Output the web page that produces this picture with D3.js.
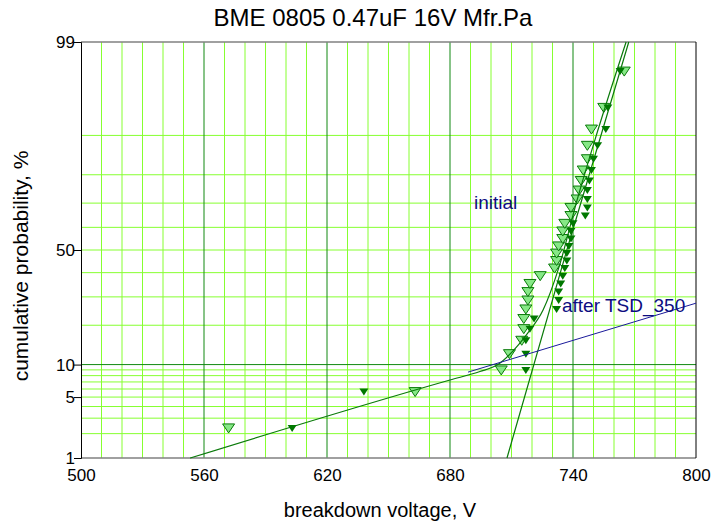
<!DOCTYPE html>
<html>
<head>
<meta charset="utf-8">
<script src="https://cdn.jsdelivr.net/npm/d3@7"></script>
<style>
  body { margin: 0; background: #fff; }
  svg text { font-family: "Liberation Sans", Arial, sans-serif; fill: #000; }
</style>
</head>
<body>
<div id="chart"></div>
<script>
// breakdown voltages (V), sorted ascending, 30 parts per lot
const voltsLight = [572, 663, 705, 709, 715, 716, 716, 717, 718, 718, 719, 724, 731, 732, 732,
                    733, 735, 735, 736, 739, 739, 742, 743, 744, 745, 747, 747, 749, 755, 765];
const voltsDark = [603, 638, 717, 717, 717, 719, 721, 732, 733, 733, 734, 735, 736, 737, 737,
                   738, 739, 739, 740, 746, 747, 747, 747, 748, 749, 750, 752, 756, 757, 763];
// cumulative probability (%) of each rank
const cumPct = [2.3, 5.6, 8.9, 12.2, 15.5, 18.8, 22.0, 25.3, 28.6, 31.9, 35.2, 38.5, 41.8, 45.1, 48.4,
                51.6, 54.9, 58.2, 61.5, 64.8, 68.1, 71.4, 74.7, 78.0, 81.3, 84.5, 87.8, 91.1, 94.4, 97.7];

// fitted distributions [voltage, %]
const fitLight = [[553.2, 1], [680.0, 7.3], [694.6, 8.7], [702.9, 9.9], [714.1, 14.9], [718.0, 17.7],
                  [725.4, 25.1], [733.2, 42.5], [742.0, 71.2], [750.7, 89.1], [765.9, 99]];
const fitDark = [[707.8, 1], [737.0, 50], [767.2, 99]];
// pointer from the "after TSD_350" label
const pointer = [[688.8, 8.6], [800, 27.6]];

const xTicks = [500, 560, 620, 680, 740, 800];
const xMinor = [510, 520, 530, 540, 550, 570, 580, 590, 600, 610, 630, 640, 650, 660, 670,
                690, 700, 710, 720, 730, 750, 760, 770, 780, 790];
const yTicks = [1, 5, 10, 50, 99];
const yMinor = [2, 3, 4, 5, 6, 7, 8, 9, 20, 30, 40, 50, 60, 70, 80, 90];
const yMajor = [10];

// inverse normal CDF (Acklam approximation)
function probit(p) {
  const a = [-39.69683028665376, 220.9460984245205, -275.9285104469687, 138.3577518672690, -30.66479806614716, 2.506628277459239];
  const b = [-54.47609879822406, 161.5858368580409, -155.6989798598866, 66.80131188771972, -13.28068155288572];
  const c = [-0.007784894002430293, -0.3223964580411365, -2.400758277161838, -2.549732539343734, 4.374664141464968, 2.938163982698783];
  const d = [0.007784695709041462, 0.3224671290700398, 2.445134137142996, 3.754408661907416];
  const pl = 0.02425;
  if (p < pl) {
    const q = Math.sqrt(-2 * Math.log(p));
    return (((((c[0]*q+c[1])*q+c[2])*q+c[3])*q+c[4])*q+c[5]) / ((((d[0]*q+d[1])*q+d[2])*q+d[3])*q+1);
  }
  if (p > 1 - pl) {
    const q = Math.sqrt(-2 * Math.log(1 - p));
    return -(((((c[0]*q+c[1])*q+c[2])*q+c[3])*q+c[4])*q+c[5]) / ((((d[0]*q+d[1])*q+d[2])*q+d[3])*q+1);
  }
  const q = p - 0.5, r = q * q;
  return (((((a[0]*r+a[1])*r+a[2])*r+a[3])*r+a[4])*r+a[5])*q / (((((b[0]*r+b[1])*r+b[2])*r+b[3])*r+b[4])*r+1);
}

const width = 712, height = 522;
const margin = { top: 42, right: 16, bottom: 64, left: 81 };
const plotW = width - margin.left - margin.right;
const plotH = height - margin.top - margin.bottom;

const svg = d3.select("#chart").append("svg")
  .attr("width", width)
  .attr("height", height);

const g = svg.append("g")
  .attr("transform", "translate(" + margin.left + "," + margin.top + ")");

// scales: linear voltage, normal-probability percent
const x = d3.scaleLinear().domain([500, 800]).range([0, plotW]);
const yz = d3.scaleLinear().domain([probit(0.01), probit(0.99)]).range([plotH, 0]);
const y = pct => yz(probit(pct / 100));

// grid
g.selectAll(".vminor").data(xMinor).enter().append("line")
  .attr("x1", d => x(d)).attr("x2", d => x(d))
  .attr("y1", 0).attr("y2", plotH)
  .attr("stroke", "#86ff30").attr("stroke-width", 1);

g.selectAll(".hminor").data(yMinor).enter().append("line")
  .attr("x1", 0).attr("x2", plotW)
  .attr("y1", d => y(d)).attr("y2", d => y(d))
  .attr("stroke", "#86ff30").attr("stroke-width", 1);

g.selectAll(".vmajor").data(xTicks.slice(1, -1)).enter().append("line")
  .attr("x1", d => x(d)).attr("x2", d => x(d))
  .attr("y1", 0).attr("y2", plotH)
  .attr("stroke", "#108810").attr("stroke-width", 1);

g.selectAll(".hmajor").data(yMajor).enter().append("line")
  .attr("x1", 0).attr("x2", plotW)
  .attr("y1", d => y(d)).attr("y2", d => y(d))
  .attr("stroke", "#108810").attr("stroke-width", 1);

// frame
g.append("line").attr("x1", 0).attr("x2", plotW).attr("y1", 0).attr("y2", 0).attr("stroke", "#808080").attr("stroke-width", 1.5);
g.append("line").attr("x1", 0).attr("x2", plotW).attr("y1", plotH).attr("y2", plotH).attr("stroke", "#808080").attr("stroke-width", 1.5);
g.append("line").attr("x1", plotW).attr("x2", plotW).attr("y1", 0).attr("y2", plotH).attr("stroke", "#000").attr("stroke-width", 1);

// axes
const xAxis = g.append("g")
  .attr("transform", "translate(0," + plotH + ")")
  .call(d3.axisBottom(x).tickValues(xTicks).tickSize(0).tickPadding(8).tickFormat(d3.format("d")));
xAxis.select(".domain").remove();
xAxis.selectAll("text").attr("font-size", 17).attr("dy", "0.9em");

const yAxis = g.append("g")
  .call(d3.axisLeft(yz).tickValues(yTicks.map(p => probit(p / 100))).tickSize(7).tickPadding(0)
    .tickFormat((d, i) => yTicks[i]));
yAxis.select(".domain").attr("stroke", "#000");
yAxis.selectAll(".tick line").attr("stroke", "#000");
yAxis.selectAll("text").attr("font-size", 17).attr("x", -6);

// markers: downward triangles
const tri = (w, h) => "M" + (-w / 2) + "," + (-h / 2) + "L" + (w / 2) + "," + (-h / 2) + "L0," + (h / 2) + "Z";

g.selectAll(".pLight").data(voltsLight).enter().append("path")
  .attr("d", tri(12, 9))
  .attr("transform", (d, i) => "translate(" + x(d) + "," + y(cumPct[i]) + ")")
  .attr("fill", "#86e886").attr("stroke", "#0a7a0a").attr("stroke-width", 1);

// fit lines
const line = d3.line().x(d => x(d[0])).y(d => y(d[1]));
g.append("path").datum(fitLight)
  .attr("d", line.curve(d3.curveMonotoneX))
  .attr("fill", "none").attr("stroke", "#0a7a0a").attr("stroke-width", 1.2);
g.append("path").datum(fitDark)
  .attr("d", d3.line().x(d => x(d[0])).y(d => y(d[1])))
  .attr("fill", "none").attr("stroke", "#0a7a0a").attr("stroke-width", 1.2);

g.selectAll(".pDark").data(voltsDark).enter().append("path")
  .attr("d", tri(9, 7))
  .attr("transform", (d, i) => "translate(" + x(d) + "," + y(cumPct[i]) + ")")
  .attr("fill", "#007800");

// pointer line and labels
g.append("path").datum(pointer)
  .attr("d", d3.line().x(d => x(d[0])).y(d => y(d[1])))
  .attr("stroke", "#1a1a9a").attr("stroke-width", 1);

svg.append("text")
  .attr("x", 474).attr("y", 209)
  .attr("font-size", 19).style("fill", "#0c0c80")
  .text("initial");

svg.append("text")
  .attr("x", 562).attr("y", 312)
  .attr("font-size", 19).style("fill", "#0c0c80")
  .text("after TSD_350");

// titles
svg.append("text")
  .attr("x", 373).attr("y", 26)
  .attr("text-anchor", "middle")
  .attr("font-size", 24)
  .text("BME 0805 0.47uF 16V Mfr.Pa");

svg.append("text")
  .attr("x", 380).attr("y", 517)
  .attr("text-anchor", "middle")
  .attr("font-size", 20)
  .text("breakdown voltage, V");

svg.append("text")
  .attr("transform", "translate(28,266) rotate(-90)")
  .attr("text-anchor", "middle")
  .attr("font-size", 21)
  .text("cumulative probability, %");
</script>
</body>
</html>
